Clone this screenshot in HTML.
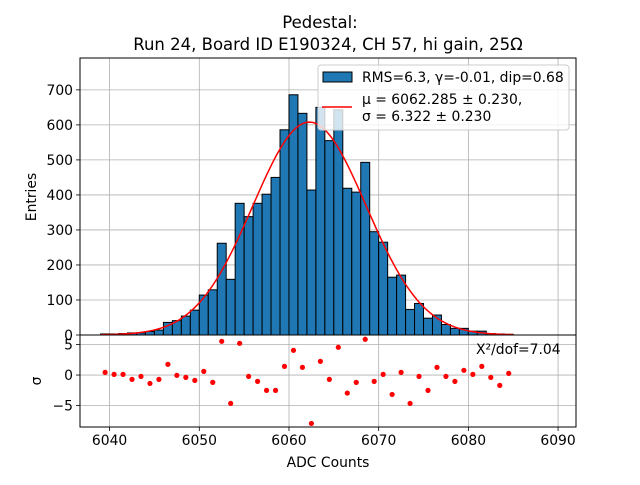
<!DOCTYPE html>
<html><head><meta charset="utf-8"><style>
body{margin:0;background:#fff}
svg text{font-family:"DejaVu Sans","Liberation Sans",sans-serif;fill:#000}
</style></head><body>
<svg id="c" width="640" height="480" xmlns="http://www.w3.org/2000/svg">
<rect width="640" height="480" fill="#fff"/>
<g id="main"></g>
<g id="res"></g>
<text x="320" y="28" font-size="16.5" text-anchor="middle">Pedestal:</text>
<text x="328" y="50" font-size="16.5" text-anchor="middle">Run 24, Board ID E190324, CH 57, hi gain, 25Ω</text>
<text x="36" y="197" font-size="13.9" text-anchor="middle" transform="rotate(-90 36 197)">Entries</text>
<text x="41" y="381" font-size="13.9" text-anchor="middle" transform="rotate(-90 41 381)">σ</text>
<text x="328" y="467" font-size="13.9" text-anchor="middle">ADC Counts</text>
</svg>
<script>
const binStart = 6039;
const counts = [3,3,4,6,6,10,14,36,41,54,71,114,129,262,159,376,338,376,402,450,586,686,633,414,650,555,643,419,408,493,295,265,165,171,73,90,48,57,30,19,19,11,11,4,3,2];
const residuals = [0.44,0.11,0.11,-0.71,-0.22,-1.37,-0.71,1.75,-0.05,-0.38,-0.87,0.60,-1.2,5.52,-4.64,5.19,-0.22,-1.04,-2.51,-2.51,1.42,4.04,1.26,-7.92,2.24,-0.71,4.54,-2.95,-1.2,5.85,-1.04,0.11,-3.17,0.44,-4.64,-0.22,-2.51,1.26,-0.22,-1.04,0.77,0.11,1.42,-0.38,-1.69,0.27];
const fitParams = [608, 6062.285, 6.322];
const xTicks = [6040,6050,6060,6070,6080,6090];
const yTicks = [0,100,200,300,400,500,600,700];
const rTicks = [5,0,-5];

const NS="http://www.w3.org/2000/svg";
const L=80,R=576,T=58,B=335,RB=427;
const xMin=6036.7,xMax=6092.0,yMax=791,rMin=-8.5,rMax=6.55;
const X=v=>L+(v-xMin)/(xMax-xMin)*(R-L);
const Y=v=>B-v/yMax*(B-T);
const RY=v=>B+(rMax-v)/(rMax-rMin)*(RB-B);
function mk(p,t,a){const e=document.createElementNS(NS,t);for(const k in a)e.setAttribute(k,a[k]);p.appendChild(e);return e;}
const main=document.getElementById('main'),res=document.getElementById('res');
xTicks.forEach(t=>{
 let g=mk(main,'line',{x1:X(t),x2:X(t),y1:T,y2:B,stroke:'#b0b0b0','stroke-width':0.8});
 
 
 let g2=mk(res,'line',{x1:X(t),x2:X(t),y1:B,y2:RB,stroke:'#b0b0b0','stroke-width':0.8});
 
 
 mk(res,'line',{x1:X(t),x2:X(t),y1:RB,y2:RB+4,stroke:'#000','stroke-width':0.8});
 let tx=mk(res,'text',{x:X(t),y:RB+18,'font-size':13.9,'text-anchor':'middle'});tx.textContent=t;
 
 
});
yTicks.forEach(t=>{
 let g=mk(main,'line',{x1:L,x2:R,y1:Y(t),y2:Y(t),stroke:'#b0b0b0','stroke-width':0.8});
 
 
 mk(main,'line',{x1:L-4,x2:L,y1:Y(t),y2:Y(t),stroke:'#000','stroke-width':0.8});
 let tx=mk(main,'text',{x:L-7,y:Y(t)+5,'font-size':13.9,'text-anchor':'end'});tx.textContent=t;
 
 
});
rTicks.forEach(t=>{
 let g=mk(res,'line',{x1:L,x2:R,y1:RY(t),y2:RY(t),stroke:'#b0b0b0','stroke-width':0.8});
 
 
 mk(res,'line',{x1:L-4,x2:L,y1:RY(t),y2:RY(t),stroke:'#000','stroke-width':0.8});
 let tx=mk(res,'text',{x:L-7,y:RY(t)+5,'font-size':13.9,'text-anchor':'end'});tx.textContent=(t<0?'\u2212'+(-t):t);
 
 
});
counts.forEach((c,i)=>{
 const x0=X(binStart+i),x1=X(binStart+i+1);
 let b=mk(main,'rect',{x:x0,y:Y(c),width:x1-x0,height:B-Y(c),fill:'#1f77b4',stroke:'#000','stroke-width':1});
 
 
});
let pts=[];
for(let v=binStart;v<=binStart+counts.length;v+=0.25){const [A,m,s]=fitParams;pts.push(X(v)+','+Y(A*Math.exp(-0.5*((v-m)/s)**2)));}
let fc=mk(main,'polyline',{points:pts.join(' '),fill:'none',stroke:'#ff0000','stroke-width':1.5});


const lg=mk(main,'g',{});


mk(lg,'rect',{x:318,y:65,width:251,height:65,rx:3,fill:'#fff','fill-opacity':0.8,stroke:'#cccccc','stroke-width':1});
mk(lg,'rect',{x:323,y:72,width:29,height:10,fill:'#1f77b4',stroke:'#000','stroke-width':1});
mk(lg,'line',{x1:322,x2:352,y1:107,y2:107,stroke:'#ff0000','stroke-width':1.5});
[['RMS=6.3, γ=-0.01, dip=0.68',82],['μ = 6062.285 ± 0.230,',104],['σ = 6.322 ± 0.230',121]].forEach(([s,y])=>{
 let t=mk(lg,'text',{x:362,y:y,'font-size':13.9});t.textContent=s;
 
 
});
mk(main,'rect',{x:L,y:T,width:R-L,height:B-T,fill:'none',stroke:'#000','stroke-width':1});
residuals.forEach((r,i)=>{
 let c=mk(res,'circle',{cx:X(binStart+i+0.5),cy:RY(r),r:2.6,fill:'#ff0000'});
 
 
});
let chi=mk(res,'text',{x:476,y:354,'font-size':13.9});chi.textContent='X²/dof=7.04';


mk(res,'rect',{x:L,y:B,width:R-L,height:RB-B,fill:'none',stroke:'#000','stroke-width':1});
</script>
</body></html>
